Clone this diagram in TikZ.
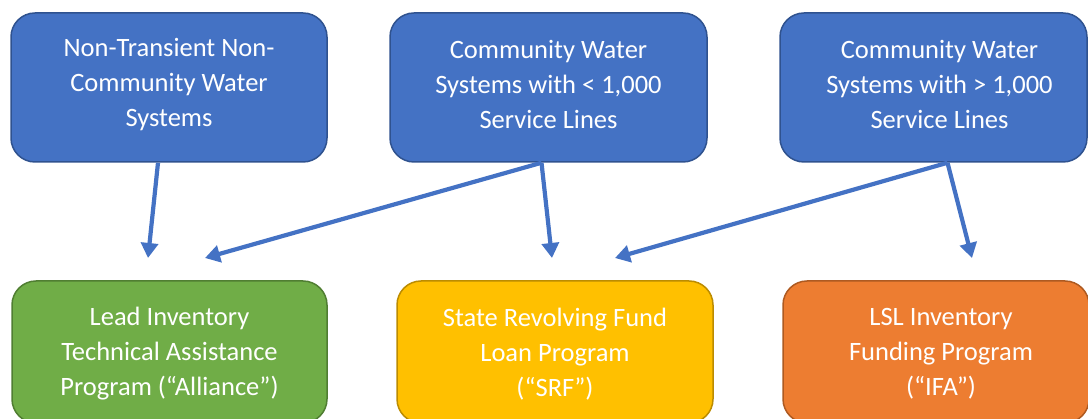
\documentclass[tikz,border=0pt]{standalone}
\usepackage{fontspec}
\setmainfont{Carlito}
\usetikzlibrary{arrows.meta}
\definecolor{bluefill}{HTML}{4472C4}
\definecolor{blueline}{HTML}{2F528F}
\definecolor{greenfill}{HTML}{70AD47}
\definecolor{greenline}{HTML}{507E32}
\definecolor{yellowfill}{HTML}{FFC000}
\definecolor{yellowline}{HTML}{BC8C00}
\definecolor{orangefill}{HTML}{ED7D31}
\definecolor{orangeline}{HTML}{AE5A21}
\tikzset{
  box/.style={rounded corners=24pt, line width=1.5pt, minimum height=149pt,
    inner sep=0pt},
  bluebox/.style={box, fill=bluefill, draw=blueline},
  greenbox/.style={box, fill=greenfill, draw=greenline, minimum height=142pt},
  yellowbox/.style={box, fill=yellowfill, draw=yellowline, minimum height=142pt},
  orangebox/.style={box, fill=orangefill, draw=orangeline, minimum height=142pt},
  txt/.style={align=center, text=white, inner sep=0pt,
    font=\fontsize{26.5pt}{35pt}\selectfont},
  arr/.style={draw=bluefill, line width=4.2pt,
    -{Triangle[length=15pt,width=17pt]}},
}
\begin{document}
\begin{tikzpicture}[x=1pt,y=-1pt]
\useasboundingbox (0,0) rectangle (1088,419);
\clip (0,0) rectangle (1088,419);
% top row
\node[bluebox, minimum width=316pt] (a1) at (169,87.5) {};
\node[txt] (a1t) at ([yshift=3pt]a1.center)
  {Non-Transient Non-\\Community Water\\Systems};
\node[bluebox, minimum width=317pt] (a2) at (548.5,87.5) {};
\node[txt] (a2t) at ([yshift=3pt]a2.center)
  {Community Water\\Systems with < 1,000\\Service Lines};
\node[bluebox, minimum width=307pt] (a3) at (933.5,87.5) {};
\node[txt] (a3t) at ([xshift=6pt,yshift=3pt]a3.center)
  {Community Water\\Systems with > 1,000\\Service Lines};
% bottom row
\node[greenbox, minimum width=315pt] (b1) at (169.5,352) {};
\node[txt] (b1t) at ([yshift=-2pt]b1.center)
  {Lead Inventory\\Technical Assistance\\Program (“Alliance”)};
\node[yellowbox, minimum width=316pt] (b2) at (555,352) {};
\node[txt] (b2t) at ([yshift=-2pt]b2.center)
  {State Revolving Fund\\Loan Program\\(“SRF”)};
\node[orangebox, minimum width=306pt] (b3) at (936,352) {};
\node[txt] (b3t) at ([xshift=5pt,yshift=-2pt]b3.center)
  {LSL Inventory\\Funding Program\\(“IFA”)};
% arrow ends
\coordinate (e1) at (148,258);
\coordinate (e2) at (205,258);
\coordinate (e3) at (552,258);
\coordinate (e4) at (615,258);
\coordinate (e5) at (972,258);
% connectors
\draw[arr] ([xshift=-11pt]a1.south) -- (e1);
\draw[arr] ([xshift=-7pt]a2.south) -- (e2);
\draw[arr] ([xshift=-7pt]a2.south) -- (e3);
\draw[arr] ([xshift=14pt]a3.south) -- (e4);
\draw[arr] ([xshift=14pt]a3.south) -- (e5);
\end{tikzpicture}
\end{document}
